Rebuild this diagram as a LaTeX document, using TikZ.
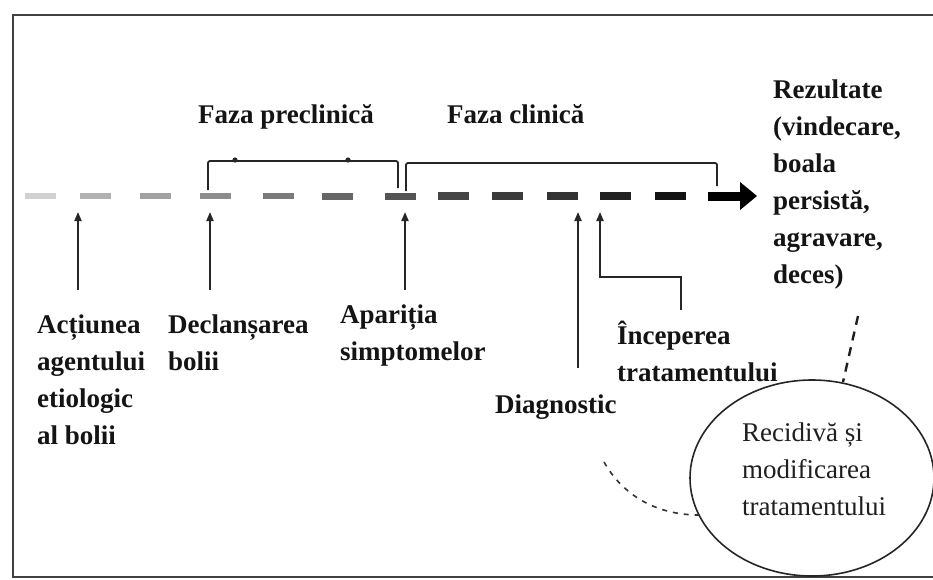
\documentclass[tikz,border=0pt]{standalone}
\usepackage{fontspec}
\setmainfont{Liberation Serif}
\usetikzlibrary{arrows.meta,shapes.geometric}
\begin{document}
\begin{tikzpicture}[x=1pt,y=-1pt,
  lbl/.style={font=\bfseries\fontsize{27}{37}\selectfont, align=left, anchor=base west, inner sep=0pt, text=black!92},
  rtxt/.style={font=\fontsize{27}{37}\selectfont, align=left, anchor=base west, inner sep=0pt, text=black!88},
  uparrow/.style={line width=2pt, draw=black!85, -{Triangle[length=9pt,width=7pt]}},
  bracket/.style={line width=1.8pt, draw=black!85, rounded corners=2pt},
  frame/.style={line width=2pt, draw=black!75},
  dashlink/.style={line width=2.4pt, draw=black!88, dash pattern=on 9pt off 7pt},
  dashcurve/.style={line width=1.6pt, draw=black!80, dash pattern=on 5pt off 6pt}
]
\useasboundingbox (0,0) rectangle (933,579);
\clip (0,0) rectangle (933,579);
\fill[white] (0,0) rectangle (933,579);
% frame
\draw[frame] (960,15) -- (12.5,15) -- (12.5,577) -- (960,577);

% gradient dashed time line
\foreach \xa/\g/\w in {25/18/5.5, 80/30/6, 140/37/6, 200/45/6.5, 263/52/6.5, 322/60/7, 385/67/7, 438/73/7.5, 492/77/7.5, 547/80/8, 600/87/8.5, 655/93/8.5}
  \draw[line width=\w pt, draw=black!\g] (\xa,196) -- ++(31,0);
\coordinate (tipstart) at (708,196);
\coordinate (tipend) at (742,196);
\draw[line width=9pt, draw=black] (tipstart) -- (tipend);
\fill[black] (740,182) -- (757,196) -- (740,210) -- cycle;

% brackets
\coordinate (b1a) at (208,190);
\coordinate (b1b) at (208,161);
\coordinate (b1c) at (398,161);
\coordinate (b1d) at (398,188);
\draw[bracket] (b1a) -- (b1b) -- (b1c) -- (b1d);
\fill[black!85] (235,160) circle (2.6);
\fill[black!85] (348,160) circle (2.6);
\coordinate (b2a) at (406,191);
\coordinate (b2b) at (406,163);
\coordinate (b2c) at (717,163);
\coordinate (b2d) at (717,186);
\draw[bracket] (b2a) -- (b2b) -- (b2c) -- (b2d);

% phase labels (anchor = baseline of last line)
\node[lbl] (pre) at (198,123) {Faza preclinică};
\node[lbl] (cli) at (447,123) {Faza clinică};
\node[lbl] (rez) at (773,283) {Rezultate\\(vindecare,\\boala\\persistă,\\agravare,\\deces)};

% event labels
\node[lbl] (act) at (37,444) {Acțiunea\\agentului\\etiologic\\al bolii};
\node[lbl] (decl) at (168,370) {Declanșarea\\bolii};
\node[lbl] (apar) at (340,360) {Apariția\\simptomelor};
\node[lbl] (inc) at (617,381) {Începerea\\tratamentului};
\node[lbl] (diag) at (495,413) {Diagnostic};

% up arrows
\coordinate (u1s) at (78,290);   \coordinate (u1e) at (78,212);
\coordinate (u2s) at (210,290);  \coordinate (u2e) at (210,212);
\coordinate (u3s) at (405,290);  \coordinate (u3e) at (405,212);
\coordinate (u4s) at (578,368);  \coordinate (u4e) at (578,212);
\coordinate (u5s) at (681,310);  \coordinate (u5m) at (681,277);
\coordinate (u5n) at (600,277);  \coordinate (u5e) at (600,212);
\draw[uparrow] (u1s) -- (u1e);
\draw[uparrow] (u2s) -- (u2e);
\draw[uparrow] (u3s) -- (u3e);
\draw[uparrow] (u4s) -- (u4e);
\draw[uparrow] (u5s) -- (u5m) -- (u5n) -- (u5e);

% recurrence ellipse
\node[draw=black!85, line width=1.6pt, ellipse, minimum width=244pt, minimum height=196pt, inner sep=0pt] (rec) at (812,478) {};
\node[rtxt] (rect) at (742,515) {Recidivă și\\modificarea\\tratamentului};

% dashed links
\coordinate (d1s) at (858,316);
\coordinate (d1e) at (843,382);
\draw[dashlink] (d1s) -- (d1e);
\coordinate (d2s) at (604,462);
\coordinate (d2e) at (699,515);
\draw[dashcurve] (d2s) .. controls (622,494) and (655,515) .. (d2e);
\end{tikzpicture}
\end{document}
